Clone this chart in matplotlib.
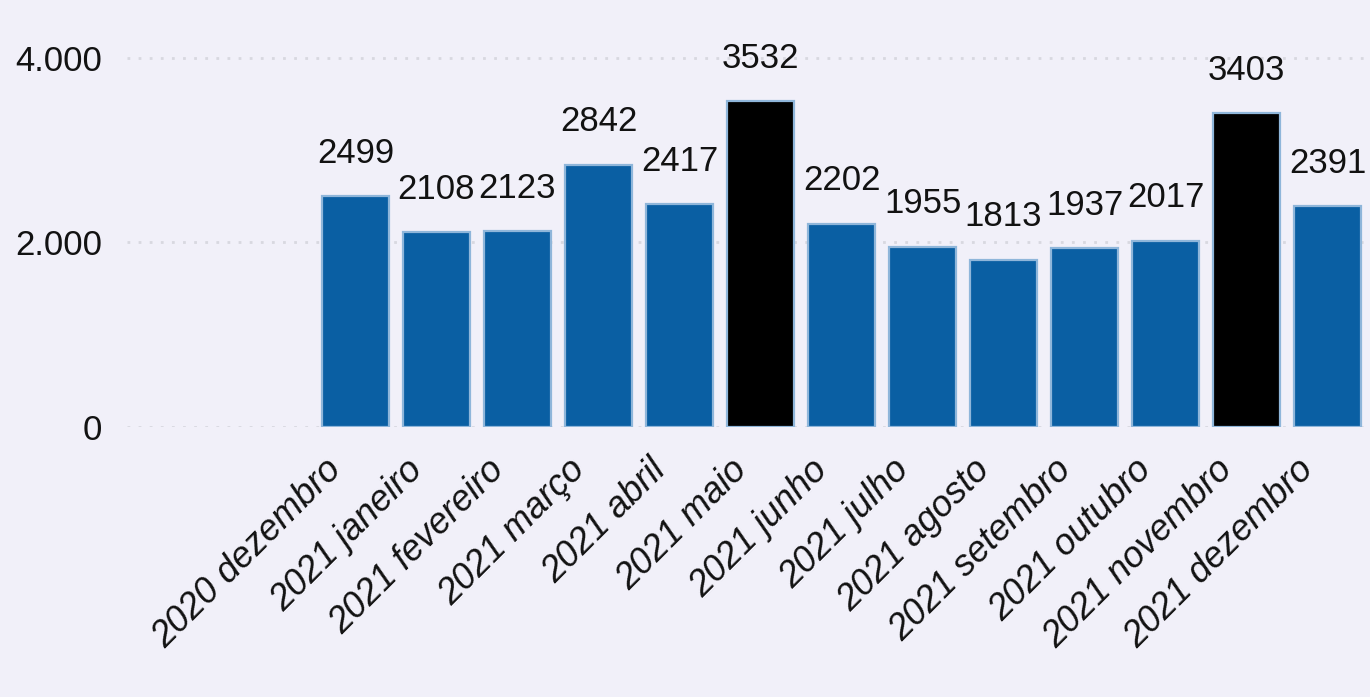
import matplotlib
matplotlib.use('Agg')
import matplotlib.pyplot as plt
from matplotlib.transforms import ScaledTranslation

# Data
meses = ['2020 dezembro', '2021 janeiro', '2021 fevereiro', '2021 março',
         '2021 abril', '2021 maio', '2021 junho', '2021 julho',
         '2021 agosto', '2021 setembro', '2021 outubro', '2021 novembro',
         '2021 dezembro']
valores = [2499, 2108, 2123, 2842, 2417, 3532, 2202, 1955, 1813, 1937,
           2017, 3403, 2391]
destaque = ['2021 maio', '2021 novembro']
y_ticks = [0, 2000, 4000]
y_labels = ['0', '2.000', '4.000']

bg = '#f1f0f9'
azul = '#0a5fa3'
txt = '#121212'
fonte = ['Liberation Sans', 'DejaVu Sans']

fig = plt.figure(figsize=(13.7, 6.97), dpi=100, facecolor=bg)
ax = fig.add_axes([0.0927, 0.3874, 0.9036, 0.5495], facecolor=bg)

cores = ['black' if m in destaque else azul for m in meses]
x = range(len(meses))
bars = ax.bar(x, valores, width=0.82, color=cores, edgecolor='#8fb6da',
              linewidth=1.6, zorder=3)

# value labels
for b, v in zip(bars, valores):
    ax.annotate(str(v), (b.get_x() + b.get_width() / 2, v),
                xytext=(0, 19), textcoords='offset points',
                ha='center', va='bottom', fontsize=25, color=txt,
                family=fonte)

ax.set_xlim(-2.82, 12.46)
ax.set_ylim(0, 4150)
ax.set_yticks(y_ticks)
ax.set_yticklabels(y_labels, family=fonte, fontsize=25, color=txt)
ax.set_xticks(list(x))
ax.set_xticklabels(meses, rotation=45, ha='right', va='center',
                   rotation_mode='anchor', family=fonte, fontsize=26,
                   style='italic', color=txt)
ax.tick_params(axis='both', length=0)
ax.tick_params(axis='y', pad=18)
ax.tick_params(axis='x', pad=0)

# shift month labels left/down like the original
off = ScaledTranslation(-0.19, -0.38, fig.dpi_scale_trans)
for lab in ax.get_xticklabels():
    lab.set_transform(lab.get_transform() + off)

for s in ax.spines.values():
    s.set_visible(False)
ax.yaxis.grid(True, linestyle=(0, (1, 3)), color='#d8d8e0', linewidth=2,
              zorder=0)
ax.set_axisbelow(True)

fig.savefig('out.png', dpi=100, facecolor=bg)
